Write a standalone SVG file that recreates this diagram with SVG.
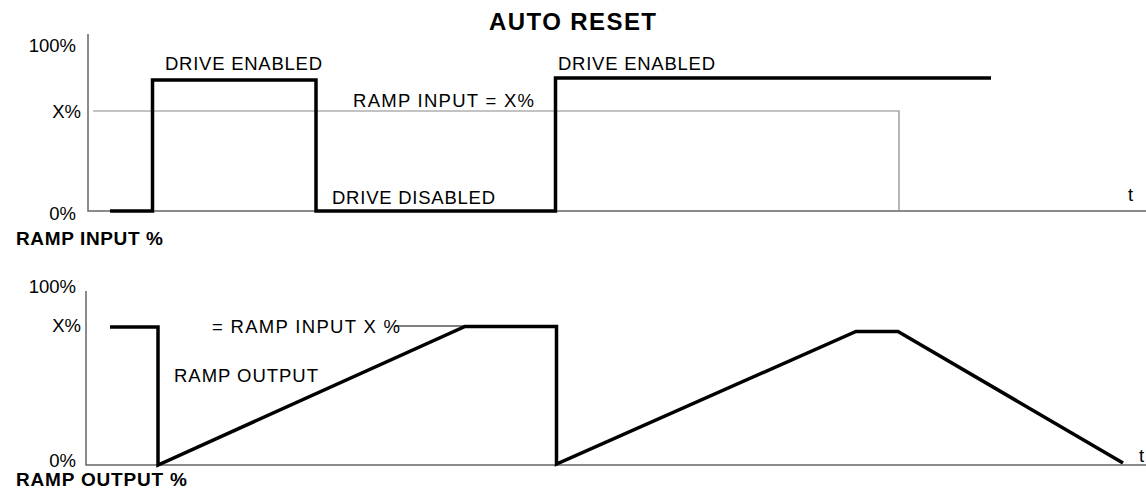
<svg xmlns="http://www.w3.org/2000/svg" width="1146" height="491" viewBox="0 0 1146 491">
<style>
text{font-family:"Liberation Sans",Arial,sans-serif;fill:#000}
.lbl{font-size:18.5px}
.bold{font-size:19px;font-weight:bold}
.title{font-size:24px;font-weight:bold}
.axis{stroke:#666;stroke-width:1.5;fill:none}
.ref{stroke:#888;stroke-width:1.2;fill:none}
.sig{stroke:#000;stroke-width:3.5;fill:none;stroke-linejoin:miter}
.thin{stroke:#000;stroke-width:1;fill:none}
</style>
<rect width="1146" height="491" fill="#fff"/>
<text id="title" class="title" x="489" y="30" textLength="167">AUTO RESET</text>

<g id="chart-input">
  <polyline class="axis" points="88,34 88,211 1146,211"/>
  <polyline class="ref" points="93,111 899,111 899,211"/>
  <polyline class="sig" points="110,211 152.5,211 152.5,80 316,80 316,211 555.5,211 555.5,78 991,78"/>
  <text class="lbl" x="76" y="52" text-anchor="end">100%</text>
  <text class="lbl" x="81" y="117.5" text-anchor="end">X%</text>
  <text class="lbl" x="76" y="220" text-anchor="end">0%</text>
  <text class="lbl" x="1128" y="201">t</text>
  <text class="lbl" x="165" y="69.5" textLength="157">DRIVE ENABLED</text>
  <text class="lbl" x="558" y="69.5" textLength="157">DRIVE ENABLED</text>
  <text class="lbl" x="353" y="107" textLength="181">RAMP INPUT = X%</text>
  <text class="lbl" x="332" y="204" textLength="163">DRIVE DISABLED</text>
  <text class="bold" x="16" y="245" textLength="147">RAMP INPUT %</text>
</g>

<g id="chart-output">
  <polyline class="axis" points="86,291 86,465 1146,465"/>
  <line class="thin" x1="395" y1="326" x2="465" y2="326"/>
  <polyline class="sig" points="110,327 158,327 158,465 465,326.5 556.5,326.5 556.5,464 856,331.5 898,331.5 1123,463"/>
  <text class="lbl" x="76" y="293" text-anchor="end">100%</text>
  <text class="lbl" x="81" y="332" text-anchor="end">X%</text>
  <text class="lbl" x="76" y="467" text-anchor="end">0%</text>
  <text class="lbl" x="1139" y="462">t</text>
  <text class="lbl" x="212" y="332.5" textLength="188">= RAMP INPUT X %</text>
  <text class="lbl" x="174" y="381.5" textLength="144">RAMP OUTPUT</text>
  <text class="bold" x="16" y="486" textLength="171">RAMP OUTPUT %</text>
</g>
</svg>
